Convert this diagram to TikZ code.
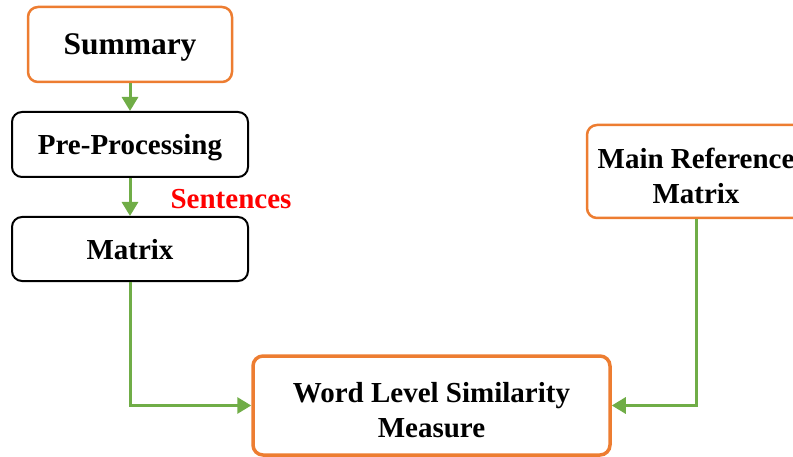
\documentclass[tikz,border=0pt]{standalone}
\usepackage{fontspec}
\setmainfont{Liberation Serif}
\usetikzlibrary{arrows.meta}
\definecolor{boxorange}{RGB}{237,125,49}
\definecolor{flowgreen}{RGB}{112,173,71}
\definecolor{labelred}{RGB}{255,0,0}
% taller first line pushes a two-line label a little lower in its box
\newcommand{\toppad}{\rule{0pt}{29pt}}
\begin{document}
\begin{tikzpicture}[x=1pt,y=1pt,
  stagebox/.style={draw, rounded corners=10pt, inner sep=0pt, align=center,
    font=\fontsize{29}{35.5}\selectfont\bfseries},
  oneline/.style={text depth=0pt},
  plainbox/.style={stagebox, draw=black, line width=2pt},
  keybox/.style={stagebox, draw=boxorange, line width=2.5pt},
  flow/.style={draw=flowgreen, line width=3pt,
    -{Triangle[length=14pt,width=16pt]}}
]
\clip (0,0) rectangle (793,456);
\useasboundingbox (0,0) rectangle (793,456);

% left column: input and preparation
\node[keybox, oneline, minimum width=204pt, minimum height=75pt,
  font=\fontsize{31.5}{36}\selectfont\bfseries] (sum) at (130,411.5) {Summary};
\node[plainbox, oneline, minimum width=236pt, minimum height=65pt] (pre) at (130,311.5) {Pre-Processing};
\node[plainbox, oneline, minimum width=236pt, minimum height=64pt] (mat) at (130,207) {Matrix};

% right column: reference matrix
\node[keybox, minimum width=218pt, minimum height=93pt] (ref) at (696,284.5)
  {\toppad Main Reference\\Matrix};

% comparison stage
\node[keybox, line width=3.5pt, minimum width=357pt, minimum height=99pt] (wlsm) at (431.5,50.5)
  {\toppad Word Level Similarity\\Measure};

% flow label
\node[text=labelred, oneline, font=\fontsize{29}{35}\selectfont\bfseries] (sent) at (231,257) {Sentences};

% connectors
\draw[flow] (sum) -- (pre);
\draw[flow] (pre) -- (mat);
\draw[flow] (mat.south) |- (wlsm.west);
\draw[flow] (ref.south) |- (wlsm.east);
\end{tikzpicture}
\end{document}
